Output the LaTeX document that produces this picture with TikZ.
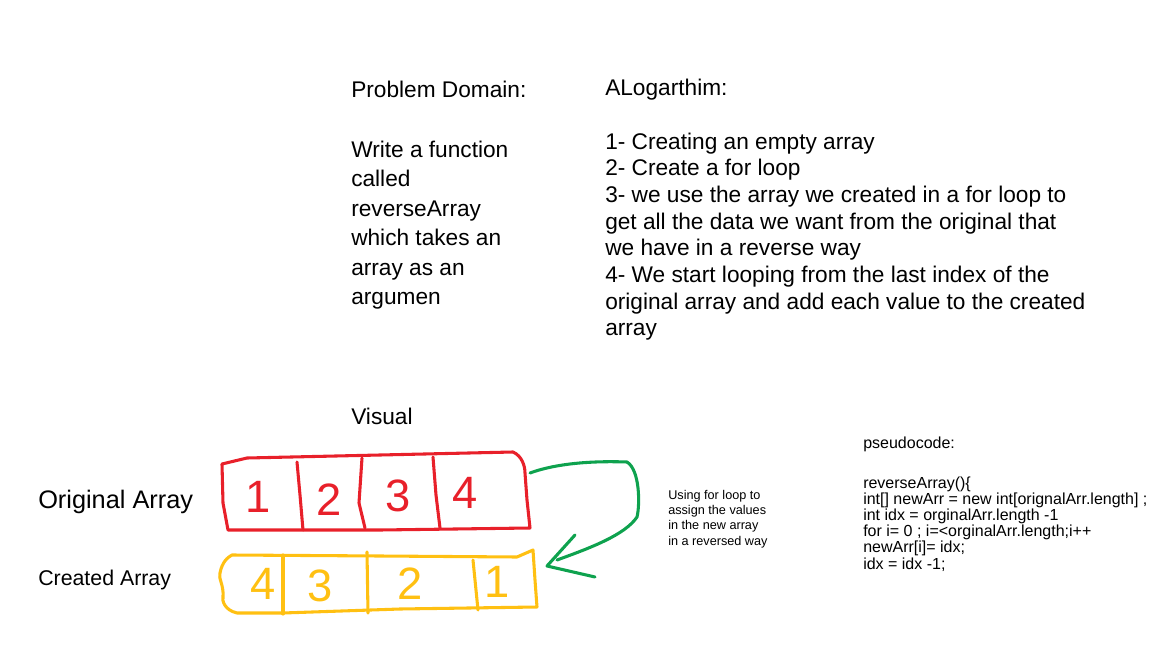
\documentclass[tikz,border=0pt]{standalone}
\usepackage{fontspec}
\setmainfont{Liberation Sans}
\definecolor{hred}{HTML}{E8202A}
\definecolor{hyel}{HTML}{FFC012}
\definecolor{hgrn}{HTML}{0EA24E}
\tikzset{
  txt/.style={anchor=base west, inner sep=0pt, font=\fontsize{17}{20}\selectfont},
  small/.style={anchor=base west, inner sep=0pt, font=\fontsize{9.5}{11}\selectfont},
  code/.style={anchor=base west, inner sep=0pt, font=\fontsize{12}{14}\selectfont},
  pen/.style={line width=2.3pt, line cap=round, line join=round},
  digit/.style={inner sep=0pt, font=\fontsize{34}{40}\selectfont},
}
\begin{document}
\begin{tikzpicture}[x=0.75pt,y=-0.75pt]
\useasboundingbox (0,0) rectangle (1172,646);
% Problem domain
\node[txt] (pd) at (351,97) {Problem Domain:};
\foreach \t [count=\i] in {Write a function,called,reverseArray,which takes an,array as an,argumen}
  \node[txt] (p\i) at (351,{157+29.5*(\i-1)}) {\t};
% Algorithm
\node[txt] (al) at (605,95) {ALogarthim:};
\foreach \t [count=\i] in {1- Creating an empty array,2- Create a for loop,3- we use the array we created in a for loop to,get all the data we want from the original that,we have in a reverse way,4- We start looping from the last index of the,original array and add each value to the created,array}
  \node[txt] (a\i) at (605,{149+26.7*(\i-1)}) {\t};
% Visual
\node[txt] (vis) at (351,424) {Visual};
\node[anchor=base west, inner sep=0pt, font=\fontsize{19}{22}\selectfont] (orig) at (38,508) {Original Array};
\node[anchor=base west, inner sep=0pt, font=\fontsize{16}{19}\selectfont] (crea) at (38,585) {Created Array};
% note
\foreach \t [count=\i] in {Using for loop to,assign the values,in the new array,in a reversed way}
  \node[small] (n\i) at (668,{499+15.4*(\i-1)}) {\t};
% pseudocode
\node[code] (ps) at (863,448) {pseudocode:};
\foreach \t [count=\i] in {reverseArray()\{,{int[] newArr = new int[orignalArr.length] ;},int idx = orginalArr.length -1,for i= 0 ; i=<orginalArr.length;i++,{newArr[i]= idx;},idx = idx -1;}
  \node[code] (c\i) at (863,{488+16.2*(\i-1)}) {\t};
% red array
\draw[pen, hred] (222,464) -- (247,458) -- (380,455) -- (513,452)
  .. controls (522,456) and (525,466) .. (525,473) -- (527,500) -- (530,528)
  -- (380,530) -- (228,530) -- (223,503) -- cycle;
\draw[pen, hred] (297,462) -- (300,495) -- (303,530);
\draw[pen, hred] (362,458) -- (359,503) -- (365,528);
\draw[pen, hred] (433,457) -- (436,495) -- (440,528);
\node[digit, hred] (r1) at (258,497) {1};
\node[digit, hred] (r2) at (329,500) {2};
\node[digit, hred] (r3) at (398,496) {3};
\node[digit, hred] (r4) at (465,493) {4};
% yellow array
\draw[pen, hyel] (232,555) -- (380,556) -- (517,557) -- (533,550) -- (535,580) -- (537,607)
  -- (400,609) -- (283,613) -- (237,613) .. controls (224,610) and (222,600) .. (223,597)
  .. controls (224,585) and (218,578) .. (220,573) .. controls (222,562) and (228,557) .. (232,555);
\draw[pen, hyel] (283,555) -- (283,614);
\draw[pen, hyel] (367,552) -- (368,613);
\draw[pen, hyel] (473,560) -- (478,610);
\node[digit, hyel] (y4) at (263,584) {4};
\node[digit, hyel] (y3) at (320,586) {3};
\node[digit, hyel] (y2) at (410,584) {2};
\node[digit, hyel] (y1) at (497,582) {1};
% green arrow
\coordinate (gs) at (530,473);
\coordinate (ge) at (557,560);
\draw[pen, hgrn] (gs) .. controls (560,462) and (600,461) .. (627,462)
  .. controls (640,470) and (640,505) .. (637,517)
  .. controls (625,535) and (590,548) .. (ge);
\draw[pen, hgrn] (575,535) -- (547,566) -- (595,577);
\end{tikzpicture}
\end{document}
